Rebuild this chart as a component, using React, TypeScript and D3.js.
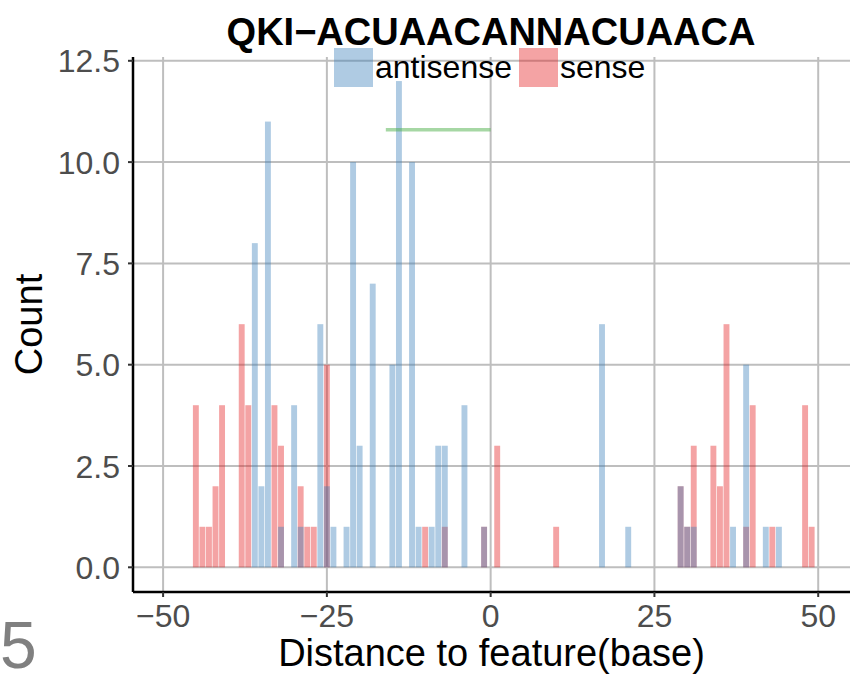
import React from "react";
import * as d3 from "d3";

const title = "QKI\u2212ACUAACANNACUAACA";
const xLabel = "Distance to feature(base)";
const yLabel = "Count";
const seriesNames = ["antisense", "sense"];

const senseDist = [-45, -44, -43, -42, -41, -38, -37, -33, -32, -29, -28, -27, -25, -10, -7, -1, 1, 10, 29, 30, 31, 34, 35, 36, 39, 40, 43, 48, 49];
const senseCount = [4, 1, 1, 2, 4, 6, 4, 4, 3, 2, 1, 1, 5, 1, 1, 1, 3, 1, 2, 1, 3, 3, 2, 6, 1, 4, 1, 4, 1];

const antisenseDist = [-36, -35, -34, -32, -30, -29, -26, -25, -24, -22, -21, -20, -18, -15, -14, -12, -11, -9, -8, -7, -4, -1, 17, 21, 29, 30, 31, 37, 39, 42, 44];
const antisenseCount = [8, 2, 11, 1, 4, 1, 6, 2, 1, 1, 10, 3, 7, 5, 12, 10, 1, 1, 3, 3, 4, 1, 6, 1, 2, 1, 1, 1, 5, 1, 1];

const motifStart = [-16];
const motifEnd = [0];
const motifLevel = [10.8];

const xTicks = [-50, -25, 0, 25, 50];
const yTicks = [0, 2.5, 5, 7.5, 10, 12.5];

const FONT = "'Liberation Sans', Arial, Helvetica, sans-serif";
const BLUE = "#377EB8";
const RED = "#E41A1C";
const GREEN = "#4DAF4A";

export default function App() {
  const W = 864, H = 676;
  const left = 133, right = 850, top = 57, bottom = 592;
  const x = d3.scaleLinear().domain([-50, 50]).range([163.1, 818.2]);
  const y = d3.scaleLinear().domain([0, 12.5]).range([567.3, 60.8]);
  const bw = (x(1) - x(0)) * 0.9;
  const fy = d3.format(".1f");
  const fx = d3.format("d");

  const sense = senseDist.map((d, i) => ({ d, c: senseCount[i] }));
  const anti = antisenseDist.map((d, i) => ({ d, c: antisenseCount[i] }));

  return (
    <svg width={W} height={H} style={{ position: "absolute", left: 0, top: 0, background: "#fff" }}>
      <rect x={0} y={0} width={W} height={H} fill="#fff" />
      {/* grid */}
      {yTicks.map((t) => (
        <line key={"gy" + t} x1={left} x2={right} y1={y(t)} y2={y(t)} stroke="#BEBEBE" strokeWidth={2} />
      ))}
      {xTicks.map((t) => (
        <line key={"gx" + t} x1={x(t)} x2={x(t)} y1={top} y2={bottom} stroke="#BEBEBE" strokeWidth={2} />
      ))}
      {/* bars */}
      {sense.map((b) => (
        <rect key={"s" + b.d} x={x(b.d) - bw / 2} y={y(b.c)} width={bw} height={y(0) - y(b.c)} fill={RED} fillOpacity={0.4} />
      ))}
      {anti.map((b) => (
        <rect key={"a" + b.d} x={x(b.d) - bw / 2} y={y(b.c)} width={bw} height={y(0) - y(b.c)} fill={BLUE} fillOpacity={0.4} />
      ))}
      {/* motif segment */}
      {motifStart.map((s, i) => (
        <line key={"m" + i} x1={x(s)} x2={x(motifEnd[i])} y1={y(motifLevel[i])} y2={y(motifLevel[i])} stroke={GREEN} strokeOpacity={0.5} strokeWidth={3.5} />
      ))}
      {/* axes */}
      <line x1={left} x2={left} y1={top} y2={bottom} stroke="#000" strokeWidth={2.5} />
      <line x1={left} x2={right} y1={bottom} y2={bottom} stroke="#000" strokeWidth={2.5} />
      {yTicks.map((t) => (
        <g key={"yt" + t}>
          <line x1={left - 5} x2={left} y1={y(t)} y2={y(t)} stroke="#333" strokeWidth={2} />
          <text x={120} y={y(t) + 11.5} textAnchor="end" fontFamily={FONT} fontSize={32} fill="#4D4D4D">{fy(t)}</text>
        </g>
      ))}
      {xTicks.map((t) => (
        <g key={"xt" + t}>
          <line x1={x(t)} x2={x(t)} y1={bottom} y2={bottom + 5} stroke="#333" strokeWidth={2} />
          <text x={x(t)} y={627} textAnchor="middle" fontFamily={FONT} fontSize={32} fill="#4D4D4D">{fx(t)}</text>
        </g>
      ))}
      {/* titles */}
      <text x={(left + right) / 2} y={666} textAnchor="middle" fontFamily={FONT} fontSize={38} fill="#000">{xLabel}</text>
      <text transform={`translate(42,${(top + bottom) / 2}) rotate(-90)`} textAnchor="middle" fontFamily={FONT} fontSize={38} fill="#000">{yLabel}</text>
      <text x={491} y={45} textAnchor="middle" fontFamily={FONT} fontSize={38} fontWeight="bold" fill="#000">{title}</text>
      {/* legend */}
      <rect x={334} y={48} width={39} height={39} fill={BLUE} fillOpacity={0.4} />
      <text x={375} y={78} fontFamily={FONT} fontSize={32} fill="#000">{seriesNames[0]}</text>
      <rect x={519} y={48} width={39} height={39} fill={RED} fillOpacity={0.4} />
      <text x={560} y={78} fontFamily={FONT} fontSize={32} fill="#000">{seriesNames[1]}</text>
      {/* corner label */}
      <text x={0} y={668} fontFamily={FONT} fontSize={66} fill="#808080">5</text>
    </svg>
  );
}
